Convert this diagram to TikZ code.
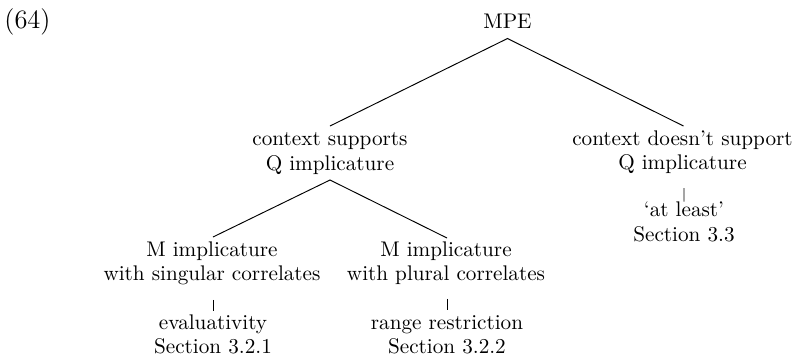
\documentclass[tikz,border=0pt]{standalone}
\usetikzlibrary{calc}
\renewcommand{\arraystretch}{0.97}
\newcommand{\twol}[2]{\begin{tabular}[t]{@{}c@{}}#1\\#2\end{tabular}}
\tikzset{
  tnode/.style={inner sep=0pt, anchor=base, font=\normalsize},
  edge/.style={draw=black, line width=0.45pt}
}
\begin{document}
\begin{tikzpicture}[x=0.472pt, y=-0.472pt]
\useasboundingbox (0,0) rectangle (796,360);
\node[inner sep=0pt, anchor=base west, font=\fontsize{12.5}{15}\selectfont] (num) at (4,28.3) {(64)};
\node[tnode] (mpe) at (507.5,28.5) {MPE};
\node[tnode] (cs) at (330,145.5) {\twol{context supports}{Q implicature}};
\node[tnode] (cd) at (682.5,145) {\twol{context doesn't support}{Q implicature}};
\node[tnode] (al) at (684,216.5) {\twol{`at least'}{Section 3.3}};
\node[tnode] (ms) at (212,256.3) {\twol{M implicature}{with singular correlates}};
\node[tnode] (mp) at (446,256.3) {\twol{M implicature}{with plural correlates}};
\node[tnode] (ev) at (213,329.3) {\twol{evaluativity}{Section 3.2.1}};
\node[tnode] (rr) at (447,329.3) {\twol{range restriction}{Section 3.2.2}};
\draw[edge] ($(cs.base)+(0,-19.5)$) -- ($(mpe.base)+(0,10)$) -- ($(cd.base)+(1,-19)$);
\draw[edge] ($(ms.base)+(1,-19.3)$) -- ($(cs.base)+(0,34.5)$) -- ($(mp.base)+(1,-18.3)$);
\draw[edge] ($(cd.base)+(1.5,43)$) -- ($(al.base)+(0,-14.8)$);
\draw[edge] ($(ms.base)+(1,43.5)$) -- ($(ev.base)+(0,-18.6)$);
\draw[edge] ($(mp.base)+(1,42.5)$) -- ($(rr.base)+(0,-19.3)$);
\end{tikzpicture}
\end{document}
